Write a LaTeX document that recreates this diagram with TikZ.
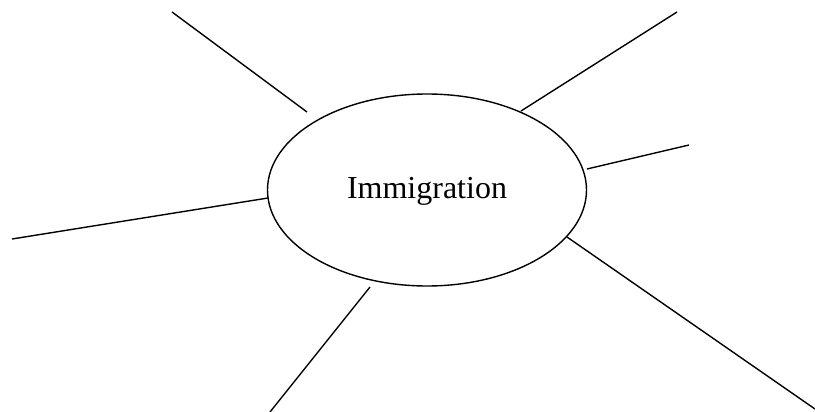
\documentclass[tikz,border=0pt]{standalone}
\usepackage{fontspec}
\setmainfont{Liberation Serif}
\usetikzlibrary{shapes.geometric}
\begin{document}
\begin{tikzpicture}[x=1pt,y=-1pt,
  spoke/.style={draw=black,line width=1.4pt},
  hub/.style={draw=black,line width=1.4pt,ellipse,minimum width=319pt,minimum height=192pt,inner sep=0pt,font=\fontsize{32}{38}\selectfont}]
\useasboundingbox (0,0) rectangle (815,412);
\node[hub] (hub) at (427,190) {\raisebox{-8pt}[0pt][0pt]{Immigration}};
\coordinate (a1) at (172,12);  \coordinate (b1) at (307,112);
\coordinate (a2) at (677,12);  \coordinate (b2) at (521,111);
\coordinate (a3) at (689,145); \coordinate (b3) at (587,169);
\coordinate (a4) at (12,239);  \coordinate (b4) at (268,198);
\coordinate (a5) at (270,412); \coordinate (b5) at (370,287);
\coordinate (a6) at (815,409); \coordinate (b6) at (567,237);
\foreach \i in {1,...,6} \draw[spoke] (a\i) -- (b\i);
\end{tikzpicture}
\end{document}
